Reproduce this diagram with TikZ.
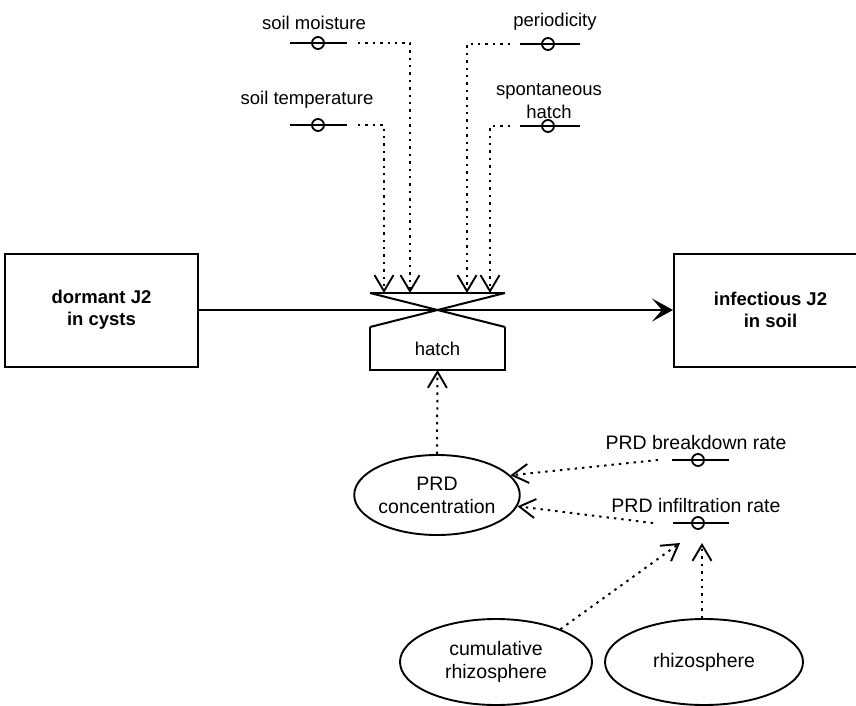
\documentclass[tikz,border=0pt]{standalone}
\usepackage{fontspec}
\setmainfont{Liberation Sans}
\usetikzlibrary{arrows.meta,shapes.geometric}
\tikzset{
  txt/.style={font=\fontsize{18.5}{23}\selectfont, inner sep=0pt, align=center},
  txtb/.style={font=\fontsize{19.5}{23}\selectfont, inner sep=0pt, align=center},
  stockbox/.style={draw, line width=2pt, minimum width=193pt, minimum height=113pt,
     font=\fontsize{18.5}{22}\selectfont\bfseries, align=center},
  ell/.style={draw, ellipse, line width=1.9pt, inner sep=0pt, align=center,
     font=\fontsize{19.5}{23}\selectfont},
  vc/.style={draw, circle, line width=1.8pt, minimum size=12pt, inner sep=0pt},
  vl/.style={line width=2.2pt},
  solidl/.style={line width=2pt},
  dl/.style={line width=2pt, dash pattern=on 2.4pt off 5pt},
  dla/.style={dl, -{Straight Barb[length=16pt,width=19pt,line width=1.9pt]}},
  flowarrow/.style={line width=2pt, -{Stealth[length=21pt,width=23pt,inset=10pt]}}
}
\begin{document}
\begin{tikzpicture}[x=1pt,y=-1pt]
\useasboundingbox (0,0) rectangle (856,706);
\clip (0,0) rectangle (856,706);

% stocks
\node[stockbox] (dormant) at (101.5,310) {dormant J2\\in cysts};
\node[stockbox] (infectious) at (770.5,310) {infectious J2\\in soil};

% flow with valve
\coordinate (bl) at (370,293);
\coordinate (br) at (505,293);
\coordinate (cl) at (370,327);
\coordinate (cr) at (505,327);
\draw[solidl] (bl) -- (br);
\draw[solidl] (bl) -- (cr);
\draw[solidl] (br) -- (cl);
\draw[solidl] (cl) -- (370,370) -- (505,370) -- (cr);
\node[txt] (hatch) at (437.5,349) {hatch};
\coordinate (hb) at (437.5,370);
\draw[flowarrow] (dormant.east) -- (infectious.west);

% arrow targets on the valve bar
\coordinate (t1) at (384,293);
\coordinate (t2) at (410,293);
\coordinate (t3) at (467,293);
\coordinate (t4) at (490,293);

% soil moisture
\node[txt] (smlab) at (314,23) {soil moisture};
\draw[vl] (290,43) -- (347,43);
\node[vc] (sm) at (318,43) {};
\draw[dla] ([xshift=40pt]sm.center) -| (t2);

% soil temperature
\node[txt] (stlab) at (307,100) {soil temperature};
\draw[vl] (290,125) -- (347,125);
\node[vc] (st) at (318,125) {};
\draw[dla] ([xshift=40pt]st.center) -| (t1);

% periodicity
\node[txt] (pelab) at (555,22) {periodicity};
\draw[vl] (520,44) -- (580,44);
\node[vc] (pe) at (548,44) {};
\draw[dla] ([xshift=-38pt]pe.center) -| (t3);

% spontaneous hatch
\node[txt] (splab) at (549,101) {spontaneous\\hatch};
\draw[vl] (520,126) -- (580,126);
\node[vc] (sp) at (548,126) {};
\draw[dla] ([xshift=-38pt]sp.center) -| (t4);

% PRD concentration
\node[ell, minimum width=156pt, minimum height=80pt] (prd) at (437,495) {PRD\\concentration};
\draw[dla] (prd.north) -- (hb);

% PRD breakdown rate
\node[txtb] (brlab) at (696,443) {PRD breakdown rate};
\draw[vl] (672,460) -- (729,460);
\node[vc] (bd) at (698,460) {};
\draw[dla] ([xshift=-40pt]bd.center) -- (prd.15);

% PRD infiltration rate
\node[txtb] (inlab) at (696,506) {PRD infiltration rate};
\draw[vl] (673,523) -- (729,523);
\node[vc] (inf) at (698,523) {};
\draw[dla] ([xshift=-45pt]inf.center) -- (prd.-8);

% rhizosphere ellipses
\node[ell, minimum width=192pt, minimum height=86pt] (cum) at (496,662) {cumulative\\rhizosphere};
\node[ell, minimum width=198pt, minimum height=86pt] (rhz) at (704,662) {rhizosphere};
\coordinate (ia) at (680,543);
\coordinate (ib) at (702,543);
\draw[dla] (cum.27) -- (ia);
\draw[dla] (rhz.north -| ib) -- (ib);
\end{tikzpicture}
\end{document}
